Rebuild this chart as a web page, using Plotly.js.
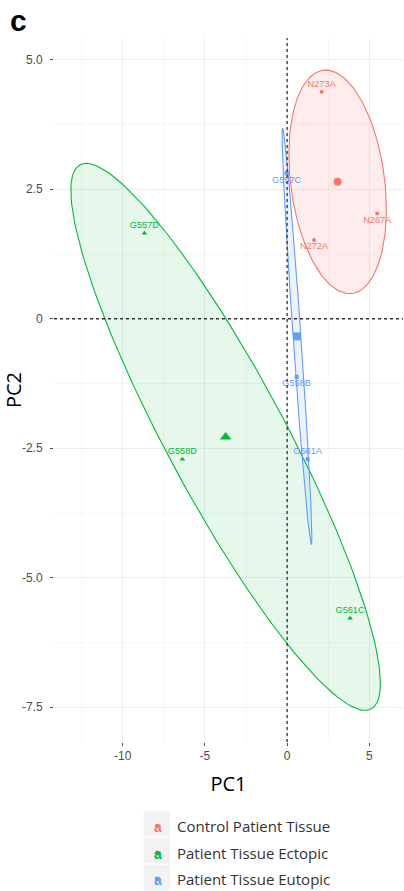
<!DOCTYPE html>
<html>
<head>
<meta charset="utf-8">
<script src="https://cdn.plot.ly/plotly-3.0.1.min.js"></script>
<style>
  html, body { margin: 0; padding: 0; background: #ffffff; }
  #chart { width: 404px; height: 891px; }
</style>
</head>
<body>
<div id="chart"></div>
<script>
// PCA individual scores, grouped by tissue type
const groupNames = ['Control Patient Tissue', 'Patient Tissue Ectopic', 'Patient Tissue Eutopic'];

const controlSamples = ['N273A', 'N267A', 'N272A'];
const controlPC1 = [2.10, 5.48, 1.64];
const controlPC2 = [4.38, 2.03, 1.52];

const ectopicSamples = ['G557D', 'G558D', 'G561C'];
const ectopicPC1 = [-8.68, -6.37, 3.83];
const ectopicPC2 = [1.65, -2.71, -5.78];

const eutopicSamples = ['G557C', 'G558B', 'G561A'];
const eutopicPC1 = [-0.03, 0.58, 1.25];
const eutopicPC2 = [2.81, -1.12, -2.71];

const xTickVals = [-10, -5, 0, 5];
const xTickText = ['-10', '-5', '0', '5'];
const yTickVals = [5, 2.5, 0, -2.5, -5, -7.5];
const yTickText = ['5.0', '2.5', '0', '-2.5', '-5.0', '-7.5'];

// Look of each group (colour, marker, where its sample labels sit)
const groupStyles = [
  { color: '#F8766D', fill: 'rgba(248,118,109,0.13)', symbol: 'circle', size: 4, centroid: 8,
    labelPos: ['top center', 'bottom center', 'bottom center'] },
  { color: '#00BA38', fill: 'rgba(0,186,56,0.10)', symbol: 'triangle-up', size: 5, centroid: 10,
    labelPos: ['top center', 'top center', 'top center'] },
  { color: '#619CFF', fill: 'rgba(97,156,255,0.12)', symbol: 'square', size: 4, centroid: 8,
    labelPos: ['bottom center', 'bottom center', 'top center'] }
];

const groups = [
  { samples: controlSamples, x: controlPC1, y: controlPC2 },
  { samples: ectopicSamples, x: ectopicPC1, y: ectopicPC2 },
  { samples: eutopicSamples, x: eutopicPC1, y: eutopicPC2 }
];

const mean = a => a.reduce((s, v) => s + v, 0) / a.length;

// Concentration ellipse from the group's mean and sample covariance
function ellipse(xs, ys, scale, steps) {
  const n = xs.length, mx = mean(xs), my = mean(ys);
  let sxx = 0, syy = 0, sxy = 0;
  for (let i = 0; i < n; i++) {
    const dx = xs[i] - mx, dy = ys[i] - my;
    sxx += dx * dx; syy += dy * dy; sxy += dx * dy;
  }
  sxx /= (n - 1); syy /= (n - 1); sxy /= (n - 1);
  const a = Math.sqrt(sxx), b = sxy / a, c = Math.sqrt(Math.max(syy - b * b, 0));
  const ex = [], ey = [];
  for (let i = 0; i <= steps; i++) {
    const t = 2 * Math.PI * i / steps, u = Math.cos(t), v = Math.sin(t);
    ex.push(mx + scale * a * u);
    ey.push(my + scale * (b * u + c * v));
  }
  return { x: ex, y: ey };
}

const traces = [];
const legendIds = ['legend', 'legend2', 'legend3'];

// group ellipses
groups.forEach((g, i) => {
  const s = groupStyles[i];
  const e = ellipse(g.x, g.y, Math.SQRT2, 180);
  traces.push({
    type: 'scatter', mode: 'lines', x: e.x, y: e.y,
    fill: 'toself', fillcolor: s.fill,
    line: { color: s.color, width: 1.1 },
    hoverinfo: 'skip', showlegend: false
  });
});

// sample points (these carry the legend entries)
groups.forEach((g, i) => {
  const s = groupStyles[i];
  traces.push({
    type: 'scatter', mode: 'markers', name: groupNames[i],
    x: g.x, y: g.y,
    marker: { symbol: s.symbol, size: s.size, color: s.color },
    legend: legendIds[i], showlegend: true
  });
});

// sample names, nudged above or below their points
groups.forEach((g, i) => {
  const s = groupStyles[i];
  traces.push({
    type: 'scatter', mode: 'markers+text',
    x: g.x, y: g.y, text: g.samples,
    textposition: s.labelPos,
    textfont: { family: 'Liberation Sans, Arial, sans-serif', size: 9.2, color: s.color },
    marker: { size: 2.5, color: 'rgba(0,0,0,0)' },
    hoverinfo: 'skip', showlegend: false
  });
});

// group centroids
groups.forEach((g, i) => {
  const s = groupStyles[i];
  traces.push({
    type: 'scatter', mode: 'markers',
    x: [mean(g.x)], y: [mean(g.y)],
    marker: { symbol: s.symbol, size: s.centroid, color: s.color },
    hoverinfo: 'skip', showlegend: false
  });
});

// Page geometry, used to place legend and key boxes in paper units
const W = 404, H = 891;
const M = { l: 54, r: 1, t: 38, b: 149, autoexpand: false };
const paperX = px => (px - M.l) / (W - M.l - M.r);
const paperY = py => (H - M.b - py) / (H - M.t - M.b);

const legendCentres = [826, 853, 879];
const legendBase = {
  xanchor: 'left', yanchor: 'middle', x: paperX(137),
  bgcolor: 'rgba(0,0,0,0)', borderwidth: 0, itemwidth: 30,
  font: { family: 'Open Sans, sans-serif', size: 15, color: '#333333' }
};

const shapes = [];
const annotations = [];
// grey key backgrounds, each with the text-label glyph of its group
for (let i = 0; i < 3; i++) {
  shapes.push({
    type: 'rect', xref: 'paper', yref: 'paper', layer: 'below',
    x0: paperX(143.5), x1: paperX(170),
    y0: paperY(810.5 + i * 27), y1: paperY(836.5 + i * 27),
    fillcolor: '#F2F2F2', line: { width: 0 }
  });
  annotations.push({
    text: '<b>a</b>', xref: 'paper', yref: 'paper',
    x: paperX(157.5), y: paperY(legendCentres[i] + 1),
    xanchor: 'center', yanchor: 'middle', showarrow: false,
    font: { family: 'Liberation Sans, Arial, sans-serif', size: 14, color: groupStyles[i].color }
  });
}
// dashed reference lines through the origin
shapes.push({
  type: 'line', xref: 'x', yref: 'paper', x0: 0, x1: 0, y0: 0, y1: 1,
  line: { color: '#333333', width: 1.3, dash: '3px,3px' }
});
shapes.push({
  type: 'line', xref: 'paper', yref: 'y', x0: 0, x1: 1, y0: 0, y1: 0,
  line: { color: '#333333', width: 1.3, dash: '3px,3px' }
});

// panel tag
annotations.push({
  text: '<b>c</b>', xref: 'paper', yref: 'paper',
  x: paperX(8), y: paperY(2), xanchor: 'left', yanchor: 'top',
  showarrow: false,
  font: { family: 'Liberation Sans, Arial, sans-serif', size: 30, color: '#000000' }
});

const layout = {
  width: W, height: H,
  margin: M,
  paper_bgcolor: '#ffffff', plot_bgcolor: '#ffffff',
  font: { family: 'Liberation Sans, Arial, sans-serif', color: '#4D4D4D' },
  xaxis: {
    range: [-14.18, 7.05], automargin: false,
    tickmode: 'array', tickvals: xTickVals, ticktext: xTickText,
    tickfont: { size: 12, color: '#4D4D4D' },
    ticks: 'outside', ticklen: 3, tickwidth: 1, tickcolor: '#4D4D4D',
    showgrid: true, gridcolor: '#EBEBEB', gridwidth: 0.9,
    minor: { dtick: 2.5, tick0: 0, showgrid: true, gridcolor: '#F4F4F4', gridwidth: 0.7 },
    zeroline: false, showline: false,
    title: { text: 'PC1', font: { family: 'Open Sans, sans-serif', size: 20, color: '#000000' }, standoff: 14 }
  },
  yaxis: {
    range: [-8.17, 5.42], automargin: false,
    tickmode: 'array', tickvals: yTickVals, ticktext: yTickText,
    tickfont: { size: 12, color: '#4D4D4D' },
    ticks: 'outside', ticklen: 3, tickwidth: 1, tickcolor: '#4D4D4D',
    ticklabelstandoff: 5,
    showgrid: true, gridcolor: '#EBEBEB', gridwidth: 0.9,
    minor: { dtick: 1.25, tick0: 0, showgrid: true, gridcolor: '#F4F4F4', gridwidth: 0.7 },
    zeroline: false, showline: false,
    title: { text: 'PC2', font: { family: 'Open Sans, sans-serif', size: 20, color: '#000000' }, standoff: 4 }
  },
  legend: Object.assign({}, legendBase, { y: paperY(legendCentres[0]) }),
  legend2: Object.assign({}, legendBase, { y: paperY(legendCentres[1]) }),
  legend3: Object.assign({}, legendBase, { y: paperY(legendCentres[2]) }),
  shapes: shapes,
  annotations: annotations
};

Plotly.newPlot('chart', traces, layout, { displayModeBar: false, staticPlot: true });
</script>
</body>
</html>
